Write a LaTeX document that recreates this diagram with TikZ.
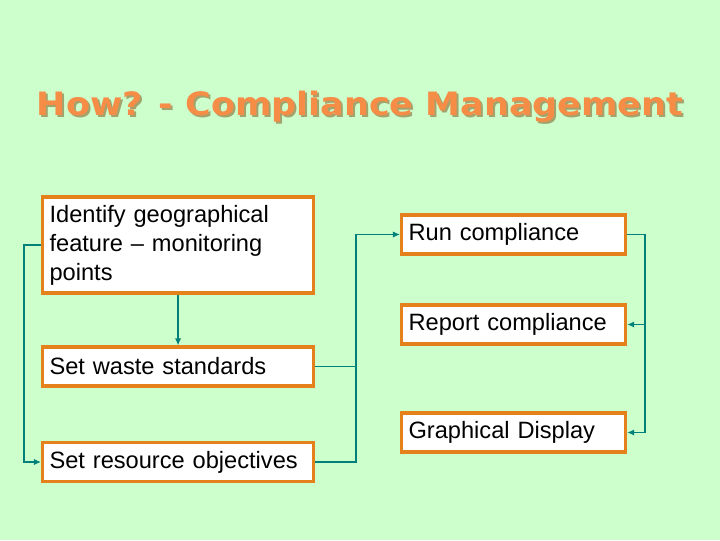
\documentclass[tikz,border=0pt]{standalone}
\usepackage{fontspec}
\setmainfont{Liberation Sans}
\newfontfamily\titlefont{DejaVu Sans}
\usetikzlibrary{arrows.meta}

\definecolor{slidegreen}{HTML}{CCFFCC}
\definecolor{boxorange}{HTML}{E5811B}
\definecolor{linkteal}{HTML}{00807A}
\definecolor{titleorange}{HTML}{F58D47}
\definecolor{titleshade}{HTML}{A3A36E}

\newcommand{\slidetitle}{\scalebox{1.13}[1.04]{How? - Compliance Management}}

\begin{document}
\begin{tikzpicture}[x=0.025cm,y=-0.025cm,
  box/.style={draw=boxorange,line width=2.2pt,fill=white,anchor=west,
    align=left,inner xsep=5pt,inner ysep=2pt,font=\fontsize{16.8}{20.6}\selectfont},
  wide/.style={box,text width=6.775cm-10pt,minimum width=6.775cm},
  narrow/.style={box,text width=5.6cm-10pt,minimum width=5.6cm},
  link/.style={draw=linkteal,line width=1.3pt},
  tip/.style={link,-{Latex[length=5pt,width=4.5pt]}}]
\useasboundingbox[fill=slidegreen] (0,0) rectangle (720,540);

% title with its shadow
\node[text=titleshade,font=\titlefont\bfseries\fontsize{22}{26}\selectfont] (shade) at (362,109) {\slidetitle};
\node[text=titleorange,font=\titlefont\bfseries\fontsize{22}{26}\selectfont] (title) at (360,107) {\slidetitle};

% left column
\node[wide,minimum height=2.4cm] (ident) at (41,245) {Identify geographical\\feature -- monitoring\\points};
\node[wide,minimum height=0.975cm] (waste) at (41,366.5) {Set waste standards};
\node[wide,minimum height=0.975cm] (res) at (41,462) {Set resource objectives};

% right column
\node[narrow,minimum height=0.975cm] (run) at (400,234.5) {Run compliance};
\node[narrow,minimum height=0.975cm] (rep) at (400,324.5) {Report compliance};
\node[narrow,minimum height=0.975cm] (graph) at (400,432.5) {Graphical Display};

\coordinate (join) at (356,300);

\draw[tip] (ident.south) -- (ident.south |- waste.north);
\draw[tip] (ident.west) -- ++(-17,0) |- (res.west);
\draw[link] (waste.east) -- (waste.east -| join);
\draw[tip] (res.east) -- (res.east -| join) -- (join |- run.west) -- (run.west);
\draw[tip] (run.east) -- ++(18,0) |- (rep.east);
\draw[tip] (run.east) -- ++(18,0) |- (graph.east);
\end{tikzpicture}
\end{document}
